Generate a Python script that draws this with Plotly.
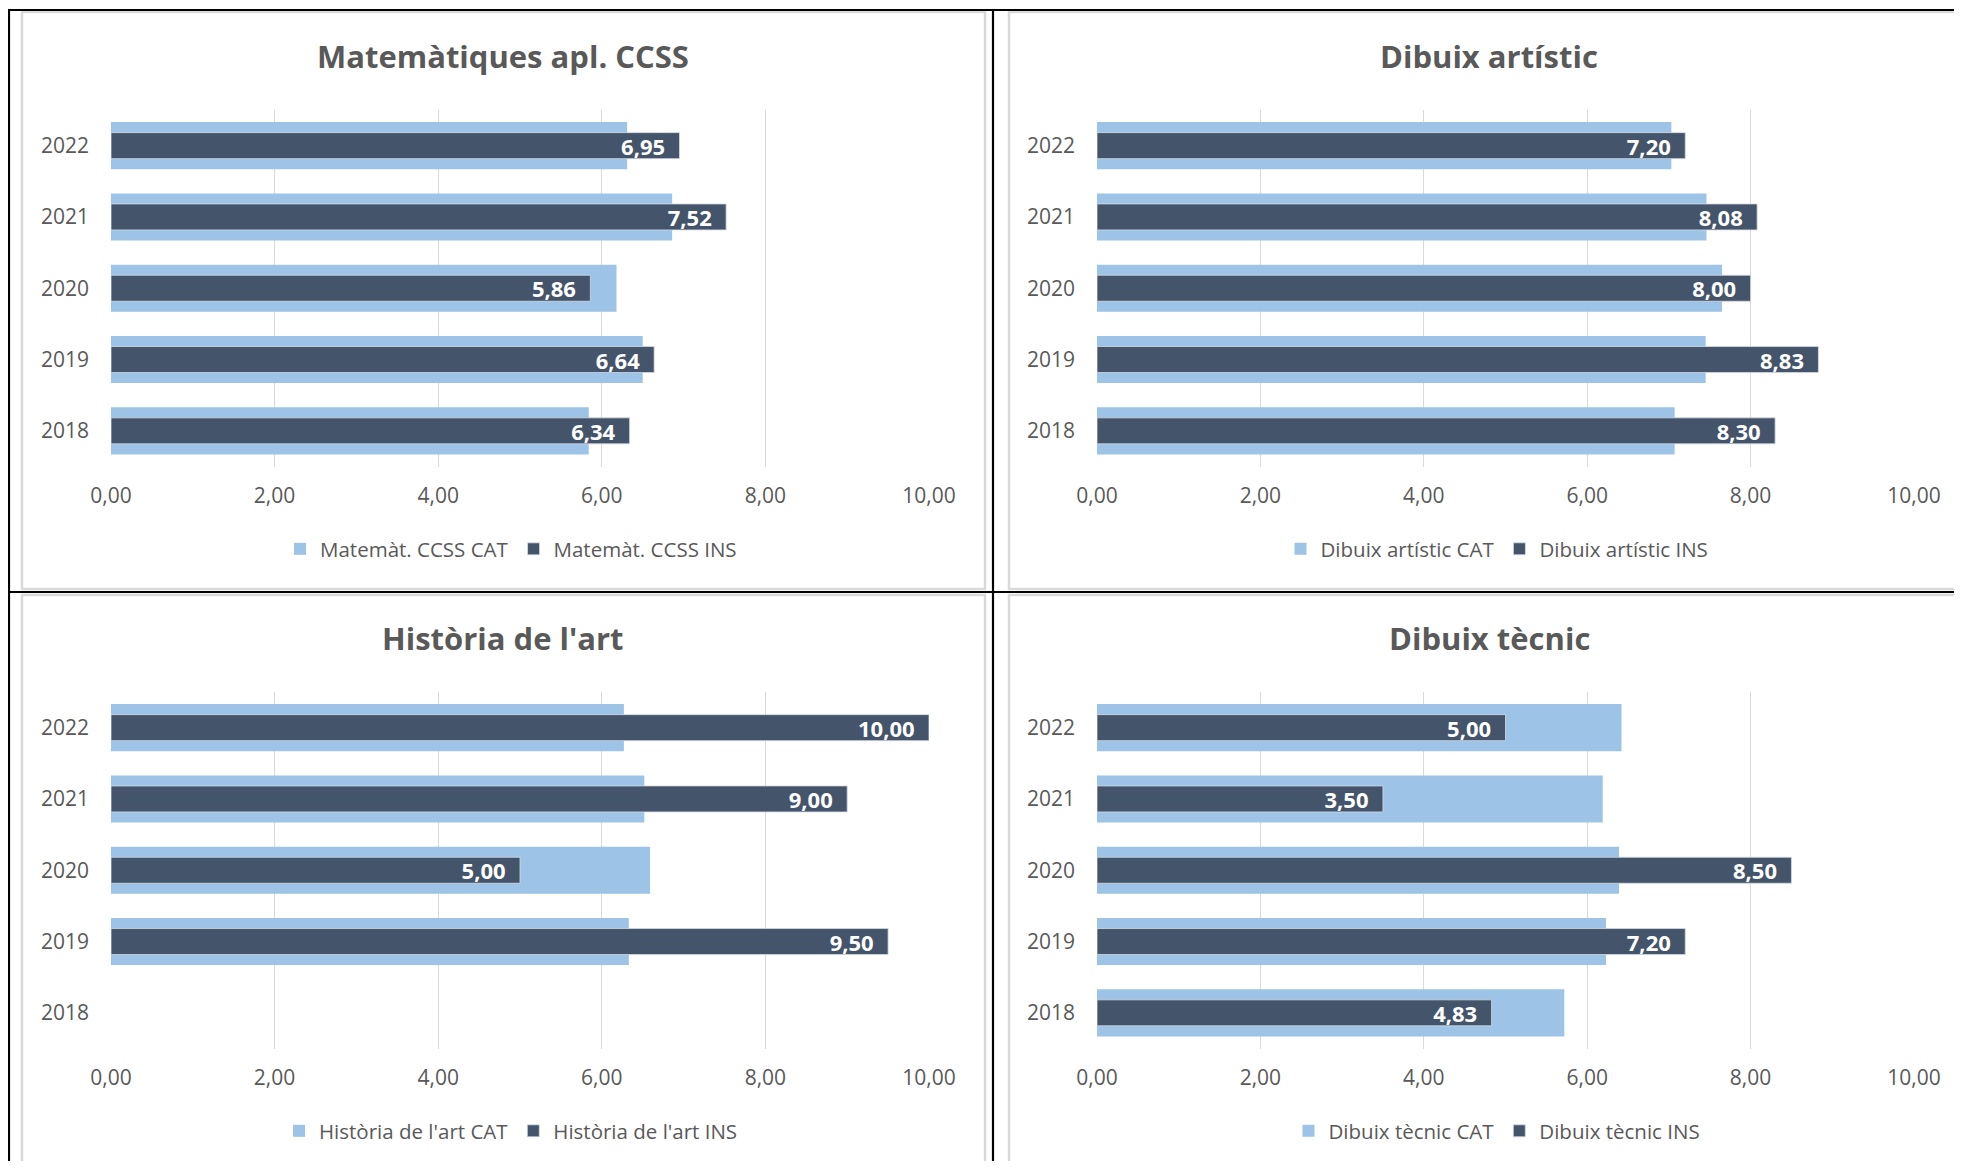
import plotly.graph_objects as go

# ---------------- data ----------------
years = [2018, 2019, 2020, 2021, 2022]
year_labels = ["2018", "2019", "2020", "2021", "2022"]
x_ticks = [0, 2, 4, 6, 8, 10]

titles = ["Matemàtiques apl. CCSS", "Dibuix artístic", "Història de l'art", "Dibuix tècnic"]
cat_names = ["Matemàt. CCSS CAT", "Dibuix artístic CAT", "Història de l'art CAT", "Dibuix tècnic CAT"]
ins_names = ["Matemàt. CCSS INS", "Dibuix artístic INS", "Història de l'art INS", "Dibuix tècnic INS"]

mat_cat = [5.84, 6.50, 6.18, 6.86, 6.31]
mat_ins = [6.34, 6.64, 5.86, 7.52, 6.95]
dart_cat = [7.07, 7.45, 7.65, 7.46, 7.03]
dart_ins = [8.30, 8.83, 8.00, 8.08, 7.20]
hart_cat = [None, 6.33, 6.59, 6.52, 6.27]
hart_ins = [None, 9.50, 5.00, 9.00, 10.00]
dtec_cat = [5.72, 6.23, 6.39, 6.19, 6.42]
dtec_ins = [4.83, 7.20, 8.50, 3.50, 5.00]

cat_series = [mat_cat, dart_cat, hart_cat, dtec_cat]
ins_series = [mat_ins, dart_ins, hart_ins, dtec_ins]

# ---------------- styling ----------------
# page body has an 8px margin; the figure fills the rest of the 1962x1169 window
OFF = 8
W, H = 1962 - 2 * OFF, 1169 - 2 * OFF
FONT = "Open Sans"
GREY = "#595959"
CAT_COLOR = "#9DC3E6"
INS_COLOR = "#44546A"
GRID = "#D9D9D9"

def px(x):
    return (x - OFF) / W

def py(y):
    return 1 - (y - OFF) / H

# plot areas in window pixels (x0, x1, ytop, ybottom)
areas = [
    (111, 929, 110, 466.5),
    (1097, 1914, 110, 466.5),
    (111, 929, 692, 1048.5),
    (1097, 1914, 692, 1048.5),
]
title_pos = [(503, 56), (1489, 56), (503, 638), (1489, 638)]
legend_pos = [(511, 549), (1497, 549), (511, 1131), (1497, 1131)]

fig = go.Figure()
layout = dict(
    width=W, height=H,
    margin=dict(l=0, r=0, t=0, b=0, autoexpand=False),
    paper_bgcolor="white", plot_bgcolor="white",
    separators=",.",
    barmode="overlay",
    font=dict(family=FONT, color=GREY),
    annotations=[], shapes=[],
)

for i in range(4):
    n = "" if i == 0 else str(i + 1)
    xa, ya = "x" + n, "y" + n
    leg = "legend" + n
    x0, x1, yt, yb = areas[i]
    fig.add_trace(go.Bar(
        x=cat_series[i], y=years, orientation="h", name=cat_names[i],
        width=0.66, marker=dict(color=CAT_COLOR, line=dict(width=0)),
        xaxis=xa, yaxis=ya, legend=leg, hoverinfo="x+name",
    ))
    fig.add_trace(go.Bar(
        x=ins_series[i], y=years, orientation="h", name=ins_names[i],
        width=0.365, marker=dict(color=INS_COLOR, line=dict(width=1, color="rgba(214,220,229,0.8)")),
        texttemplate="%{x:.2f}\u00a0\u00a0", textposition="inside", insidetextanchor="end",
        constraintext="none", textangle=0,
        textfont=dict(family=FONT, size=22, color="white", weight="bold"),
        xaxis=xa, yaxis=ya, legend=leg, hoverinfo="x+name",
    ))
    layout["xaxis" + n] = dict(
        domain=[px(x0), px(x1)], anchor=ya, range=[0, 10], automargin=False,
        tickvals=x_ticks, tickformat=".2f",
        showgrid=True, gridcolor=GRID, gridwidth=1, zeroline=False, showline=False,
        ticks="", ticklabelstandoff=14,
        tickfont=dict(family=FONT, size=21, color=GREY), fixedrange=True,
    )
    layout["yaxis" + n] = dict(
        domain=[py(yb), py(yt)], anchor=xa, range=[2017.5, 2022.5], automargin=False,
        tickvals=years, ticktext=year_labels,
        showgrid=False, zeroline=False, showline=False, ticks="", ticklabelstandoff=21,
        tickfont=dict(family=FONT, size=21, color=GREY), fixedrange=True,
    )
    lx, ly = legend_pos[i]
    layout[leg] = dict(
        orientation="h", x=px(lx), y=py(ly), xanchor="center", yanchor="middle",
        xref="paper", yref="paper",
        font=dict(family=FONT, size=20.5, color=GREY), itemwidth=30,
        bgcolor="rgba(0,0,0,0)", traceorder="normal",
    )
    tx, ty = title_pos[i]
    layout["annotations"].append(dict(
        text="<b>" + titles[i] + "</b>", x=px(tx), y=py(ty), xref="paper", yref="paper",
        xanchor="center", yanchor="middle", showarrow=False,
        font=dict(family=FONT, size=31, color=GREY),
    ))

# panel frames (light grey) and table lines (black)
frames = [(22, 985, 12, 589), (1009, 1985, 12, 589), (22, 985, 595, 1167), (1009, 1985, 595, 1167)]
for (a, b, c, d) in frames:
    layout["shapes"].append(dict(
        type="rect", xref="paper", yref="paper", x0=px(a), x1=px(b), y0=py(d), y1=py(c),
        line=dict(color="#D9D9D9", width=2.5), fillcolor="rgba(0,0,0,0)", layer="below",
    ))
black_lines = [
    (9, 9, 10, 1180),
    (8, 1980, 10, 10),
    (993, 993, 10, 1180),
    (8, 1980, 592, 592),
]
for (a, b, c, d) in black_lines:
    layout["shapes"].append(dict(
        type="line", xref="paper", yref="paper", x0=px(a), x1=px(b), y0=py(c), y1=py(d),
        line=dict(color="black", width=2.2),
    ))

fig.update_layout(**layout)
fig.write_html("out.html")
